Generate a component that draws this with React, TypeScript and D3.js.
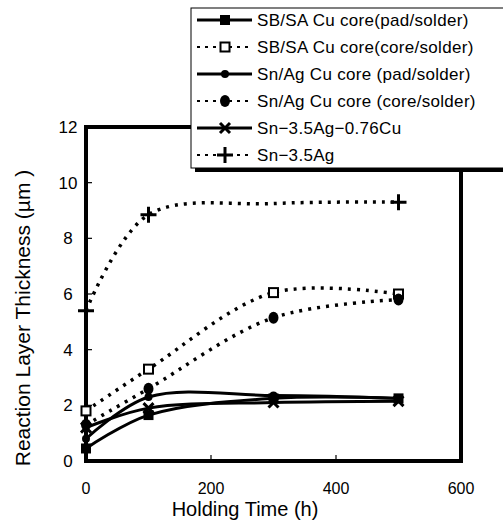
import React, { useEffect, useRef } from "react";
import * as d3 from "d3";

const hours = [0, 100, 300, 500];
const seriesNames = [
  "SB/SA Cu core(pad/solder)",
  "SB/SA Cu core(core/solder)",
  "Sn/Ag Cu core (pad/solder)",
  "Sn/Ag Cu core (core/solder)",
  "Sn\u22123.5Ag\u22120.76Cu",
  "Sn\u22123.5Ag",
];
const sbsaPad = [0.45, 1.65, 2.25, 2.25];
const sbsaCore = [1.8, 3.3, 6.05, 6.0];
const snagPad = [0.8, 2.3, 2.35, 2.25];
const snagCore = [1.3, 2.6, 5.15, 5.8];
const sac = [1.2, 1.9, 2.1, 2.15];
const snag = [5.4, 8.85, 9.25, 9.3];
const markedSnag = [true, true, false, true];

const yTicks = [0, 2, 4, 6, 8, 10, 12];
const xTicks = [0, 200, 400, 600];

export default function App() {
  const ref = useRef<SVGSVGElement>(null);

  useEffect(() => {
    if (!ref.current) return;
    const svg = d3.select(ref.current);
    svg.selectAll("*").remove();

    const left = 86, right = 461, top = 127, bottom = 461;
    const x = d3.scaleLinear().domain([0, 600]).range([left, right]);
    const y = d3.scaleLinear().domain([0, 12]).range([bottom, top]);
    const font = "'Liberation Sans Narrow', 'Liberation Sans', Arial, sans-serif";

    // frame
    svg.append("rect")
      .attr("x", left).attr("y", top)
      .attr("width", right - left).attr("height", bottom - top)
      .attr("fill", "none").attr("stroke", "#000").attr("stroke-width", 4);

    // ticks
    yTicks.forEach(t => {
      svg.append("line").attr("x1", left).attr("x2", left + 6)
        .attr("y1", y(t)).attr("y2", y(t)).attr("stroke", "#000").attr("stroke-width", 1.2);
      svg.append("text").attr("x", 68).attr("y", y(t) + 6)
        .attr("text-anchor", "middle").style("font-family", font).style("font-size", "17px")
        .text(t);
    });
    xTicks.forEach(t => {
      svg.append("line").attr("x1", x(t)).attr("x2", x(t))
        .attr("y1", bottom).attr("y2", bottom - 6).attr("stroke", "#000").attr("stroke-width", 1.2);
      svg.append("text").attr("x", x(t)).attr("y", 494)
        .attr("text-anchor", "middle").style("font-family", font).style("font-size", "16px")
        .text(t);
    });

    // axis titles
    svg.append("text").attr("x", 245).attr("y", 516)
      .attr("text-anchor", "middle").style("font-family", font).style("font-size", "20px")
      .text("Holding Time (h)");
    svg.append("text")
      .attr("transform", `translate(30,${318}) rotate(-90)`)
      .attr("text-anchor", "middle").style("font-family", font).style("font-size", "21px")
      .text("Reaction Layer Thickness (\u00b5m )");

    const seriesData = [
      { xs: hours, ys: sbsaPad, dash: null, marker: "square", mark: [true, true, true, true] },
      { xs: hours, ys: sbsaCore, dash: "3,6", marker: "openSquare", mark: [true, true, true, true] },
      { xs: hours, ys: snagPad, dash: null, marker: "dot", mark: [true, true, true, true] },
      { xs: hours, ys: snagCore, dash: "3,6", marker: "circle", mark: [true, true, true, true] },
      { xs: hours, ys: sac, dash: null, marker: "cross", mark: [true, true, true, true] },
      { xs: hours, ys: snag, dash: "3,6", marker: "plus", mark: markedSnag },
    ];

    const line = d3.line<[number, number]>()
      .x(d => x(d[0])).y(d => y(d[1]))
      .curve(d3.curveCatmullRom.alpha(0.5));

    const drawMarker = (g: any, kind: string, cx: number, cy: number) => {
      if (kind === "square") {
        g.append("rect").attr("x", cx - 5).attr("y", cy - 5).attr("width", 10).attr("height", 10).attr("fill", "#000");
      } else if (kind === "openSquare") {
        g.append("rect").attr("x", cx - 4.5).attr("y", cy - 4.5).attr("width", 9).attr("height", 9)
          .attr("fill", "#fff").attr("stroke", "#000").attr("stroke-width", 2);
      } else if (kind === "dot") {
        g.append("circle").attr("cx", cx).attr("cy", cy).attr("r", 4).attr("fill", "#000");
      } else if (kind === "circle") {
        g.append("ellipse").attr("cx", cx).attr("cy", cy).attr("rx", 5).attr("ry", 6).attr("fill", "#000");
      } else if (kind === "cross") {
        g.append("path").attr("d", `M${cx - 5},${cy - 5}L${cx + 5},${cy + 5}M${cx + 5},${cy - 5}L${cx - 5},${cy + 5}`)
          .attr("stroke", "#000").attr("stroke-width", 3);
      } else if (kind === "plus") {
        g.append("path").attr("d", `M${cx - 8},${cy}L${cx + 8},${cy}M${cx},${cy - 8}L${cx},${cy + 8}`)
          .attr("stroke", "#000").attr("stroke-width", 3);
      }
    };

    const plot = svg.append("g");
    seriesData.forEach(s => {
      const pts = s.xs.map((h, i) => [h, s.ys[i]] as [number, number]);
      plot.append("path").attr("d", line(pts))
        .attr("fill", "none").attr("stroke", "#000")
        .attr("stroke-width", s.dash ? 3.5 : 3)
        .attr("stroke-dasharray", s.dash);
      pts.forEach((p, i) => {
        if (s.mark[i]) drawMarker(plot, s.marker, x(p[0]), y(p[1]));
      });
    });

    // legend
    const lg = svg.append("g");
    const lx = 191, ly = 8, lw = 330, lh = 160;
    lg.append("rect").attr("x", lx + 4).attr("y", ly + 4).attr("width", lw).attr("height", lh).attr("fill", "#000");
    lg.append("rect").attr("x", lx).attr("y", ly).attr("width", lw).attr("height", lh)
      .attr("fill", "#fff").attr("stroke", "#000").attr("stroke-width", 1);
    seriesData.forEach((s, i) => {
      const ry = 20 + i * 27;
      lg.append("line").attr("x1", 197).attr("x2", 252).attr("y1", ry).attr("y2", ry)
        .attr("stroke", "#000").attr("stroke-width", s.dash ? 2 : 3)
        .attr("stroke-dasharray", s.dash ? "3,5" : null);
      drawMarker(lg, s.marker, 225, ry);
      lg.append("text").attr("x", 257).attr("y", ry + 6)
        .style("font-family", font).style("font-size", "17px")
        .style("letter-spacing", "0.3px")
        .text(seriesNames[i]);
    });
  }, []);

  return (
    <svg ref={ref} width={503} height={524}
      style={{ position: "absolute", left: 0, top: 0, background: "#fff" }} />
  );
}
